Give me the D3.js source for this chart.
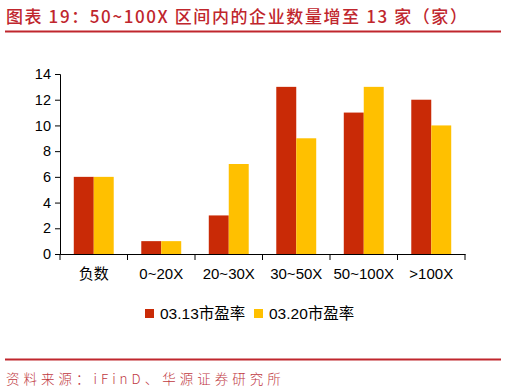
<!DOCTYPE html>
<html>
<head>
<meta charset="utf-8">
<script src="https://cdn.jsdelivr.net/npm/d3@7"></script>
<style>
  body { margin: 0; background: #fff; }
  svg { display: block; }
</style>
</head>
<body>
<div id="chart"></div>
<script>
// 区间分类与两期企业数量
const categories = ["负数", "0~20X", "20~30X", "30~50X", "50~100X", ">100X"];
const seriesNames = ["03.13市盈率", "03.20市盈率"];
const values0313 = [6, 1, 3, 13, 11, 12];
const values0320 = [6, 1, 7, 9, 13, 10];
const yTicks = [0, 2, 4, 6, 8, 10, 12, 14];

const W = 506, H = 392;
const colors = ["#C92A06", "#FFC000"];
const titleColor = "#C0262D";

const svg = d3.select("#chart").append("svg")
    .attr("width", W)
    .attr("height", H);

// 标题
svg.append("text")
    .attr("x", 6)
    .attr("y", 23)
    .attr("fill", titleColor)
    .style("font-family", "'Noto Sans CJK SC', sans-serif")
    .style("font-size", "17px")
    .style("font-weight", "500")
    .style("letter-spacing", "1.6px")
    .text("图表 19：50~100X 区间内的企业数量增至 13 家（家）");

svg.append("line")
    .attr("x1", 5).attr("x2", 501)
    .attr("y1", 31.5).attr("y2", 31.5)
    .attr("stroke", titleColor)
    .attr("stroke-width", 1.8);

// 比例尺
const x0 = d3.scaleBand()
    .domain(categories)
    .range([60, 465])
    .padding(0);

const x1 = d3.scaleBand()
    .domain(seriesNames)
    .range([0, x0.bandwidth()])
    .paddingInner(0)
    .paddingOuter(0.69);

const y = d3.scaleLinear()
    .domain([0, 14])
    .range([254, 74]);

const data = categories.map((c, i) => ({
    cat: c,
    vals: [values0313[i], values0320[i]]
}));

// 柱子
const groups = svg.append("g")
    .selectAll("g")
    .data(data)
    .join("g")
    .attr("transform", d => `translate(${x0(d.cat)},0)`);

groups.selectAll("rect")
    .data(d => d.vals.map((v, k) => ({ key: seriesNames[k], v, k })))
    .join("rect")
    .attr("x", d => x1(d.key))
    .attr("y", d => y(d.v))
    .attr("width", x1.bandwidth())
    .attr("height", d => y(0) - y(d.v))
    .attr("fill", d => colors[d.k]);

// Y 轴
const yAxis = svg.append("g")
    .attr("transform", "translate(60,0)")
    .call(d3.axisLeft(y).tickValues(yTicks).tickSize(5).tickPadding(4));
yAxis.select(".domain").attr("stroke", "#000");
yAxis.selectAll(".tick line").attr("stroke", "#000");
yAxis.selectAll("text")
    .style("font-family", "'Liberation Sans', Arial, sans-serif")
    .style("font-size", "14.5px")
    .attr("fill", "#000");

// X 轴
const xAxis = svg.append("g")
    .attr("transform", `translate(0,${y(0)})`)
    .call(d3.axisBottom(x0).tickSize(0).tickPadding(14).tickSizeOuter(0));
xAxis.select(".domain").attr("stroke", "#000");
xAxis.selectAll("text")
    .style("font-family", "'Liberation Sans', 'Noto Sans CJK SC', sans-serif")
    .style("font-size", "15px")
    .attr("fill", "#000");

// 分隔刻度
const bounds = categories.map(c => x0(c)).concat([x0.range()[1]]);
svg.append("g")
    .selectAll("line")
    .data(bounds)
    .join("line")
    .attr("x1", d => d).attr("x2", d => d)
    .attr("y1", y(0)).attr("y2", y(0) + 6)
    .attr("stroke", "#000");

// 图例
const legendPos = [145, 254];
const legend = svg.append("g");
seriesNames.forEach((name, i) => {
    legend.append("rect")
        .attr("x", legendPos[i])
        .attr("y", 309)
        .attr("width", 9)
        .attr("height", 9)
        .attr("fill", colors[i]);
    legend.append("text")
        .attr("x", legendPos[i] + 15)
        .attr("y", 319)
        .attr("fill", "#000")
        .style("font-family", "'Liberation Sans', 'Noto Sans CJK SC', sans-serif")
        .style("font-size", "15.5px")
        .text(name);
});

// 底部来源
svg.append("line")
    .attr("x1", 5).attr("x2", 501)
    .attr("y1", 359.5).attr("y2", 359.5)
    .attr("stroke", titleColor)
    .attr("stroke-width", 1.8);

svg.append("text")
    .attr("x", 6)
    .attr("y", 384)
    .attr("fill", "#C0393F")
    .style("font-family", "'Noto Sans CJK SC', sans-serif")
    .style("font-size", "13.5px")
    .style("font-weight", "300")
    .style("letter-spacing", "4px")
    .text("资料来源：iFinD、华源证券研究所");
</script>
</body>
</html>
